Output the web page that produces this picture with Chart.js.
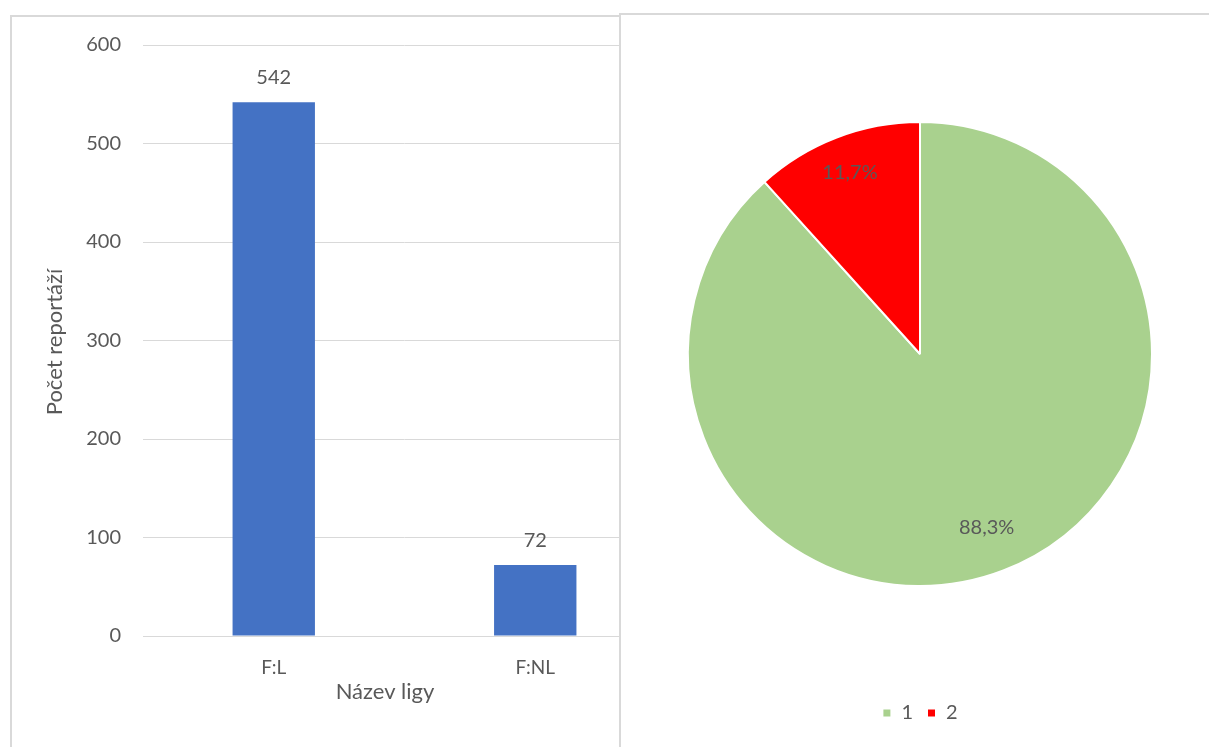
<!DOCTYPE html>
<html>
<head>
<meta charset="utf-8">
<script src="https://cdn.jsdelivr.net/npm/chart.js@4"></script>
<style>
  body { margin: 0; background: #fff; }
  #wrap { position: relative; width: 1209px; height: 747px; overflow: hidden; }
  #leftBox { position: absolute; left: 10px; top: 15px; width: 608px; height: 760px; border: 2px solid #d9d9d9; }
  #barWrap { position: absolute; left: 0; top: 0; width: 680px; height: 747px; }
  #rightBox { position: absolute; left: 619px; top: 13px; width: 620px; height: 760px; border: 2px solid #d9d9d9; background: #fff; }
  #pieWrap { position: absolute; left: 622px; top: 15px; width: 587px; height: 732px; }
</style>
</head>
<body>
<div id="wrap">
  <div id="leftBox"></div>
  <div id="barWrap"><canvas id="barChart"></canvas></div>
  <div id="rightBox"></div>
  <div id="pieWrap"><canvas id="pieChart"></canvas></div>
</div>
<script>
// 막대 차트 데이터
var ligy = ['F:L', 'F:NL'];
var pocty = [542, 72];
var yTitle = 'Počet reportáží';
var xTitle = 'Název ligy';

// 원형 차트 데이터
var pieLabels = ['1', '2'];
var piePct = [88.3, 11.7];

var textColor = '#595959';
var fontFam = 'Lato, "Open Sans", sans-serif';
Chart.defaults.font.family = fontFam;
Chart.defaults.font.size = 20;
Chart.defaults.color = textColor;

// 막대 위 값 + 축 제목
var barLabels = {
  id: 'barLabels',
  afterDatasetsDraw: function (chart) {
    var c = chart.ctx;
    c.save();
    c.fillStyle = textColor;
    c.font = '20px ' + fontFam;
    c.textAlign = 'center';
    c.textBaseline = 'middle';
    chart.getDatasetMeta(0).data.forEach(function (bar, i) {
      c.fillText(String(pocty[i]), bar.x, bar.y - 25);
    });
    c.font = '22px ' + fontFam;
    c.fillText(xTitle, 385, 692);
    c.translate(55, 342);
    c.rotate(-Math.PI / 2);
    c.fillText(yTitle, 0, 0);
    c.restore();
  }
};

new Chart(document.getElementById('barChart'), {
  type: 'bar',
  data: {
    labels: ligy,
    datasets: [{
      data: pocty,
      backgroundColor: '#4472C4',
      categoryPercentage: 1,
      barPercentage: 0.315
    }]
  },
  options: {
    responsive: true,
    maintainAspectRatio: false,
    animation: false,
    layout: { padding: { left: 0, top: 45, right: 14, bottom: 0 } },
    plugins: { legend: { display: false }, tooltip: { enabled: false } },
    scales: {
      x: {
        grid: { display: false, drawTicks: false },
        border: { display: true, color: '#d9d9d9', width: 1 },
        ticks: { padding: 20, font: { size: 19 } },
        afterFit: function (s) { s.height = 111; }
      },
      y: {
        min: 0, max: 600,
        ticks: { stepSize: 100, padding: 22 },
        grid: { color: '#d9d9d9', drawTicks: false },
        border: { display: false },
        afterFit: function (s) { s.width = 143; }
      }
    }
  },
  plugins: [barLabels]
});

// 원형 차트 퍼센트 라벨
var pieText = {
  id: 'pieText',
  afterDatasetsDraw: function (chart) {
    var c = chart.ctx;
    c.save();
    c.fillStyle = textColor;
    c.font = '20px ' + fontFam;
    c.textAlign = 'center';
    c.textBaseline = 'middle';
    var k = [0.8, 0.84];
    chart.getDatasetMeta(0).data.forEach(function (arc, i) {
      var mid = (arc.startAngle + arc.endAngle) / 2;
      var r = arc.outerRadius * k[i];
      var txt = piePct[i].toFixed(1).replace('.', ',') + '%';
      c.fillText(txt, arc.x + Math.cos(mid) * r, arc.y + Math.sin(mid) * r);
    });
    c.restore();
  }
};

new Chart(document.getElementById('pieChart'), {
  type: 'pie',
  data: {
    labels: pieLabels,
    datasets: [{
      data: piePct,
      backgroundColor: ['#A9D18E', '#FF0000'],
      borderColor: '#fff',
      borderWidth: 2
    }]
  },
  options: {
    responsive: true,
    maintainAspectRatio: false,
    animation: false,
    layout: { padding: { left: 65, right: 56, top: 4, bottom: 14 } },
    plugins: {
      tooltip: { enabled: false },
      legend: {
        position: 'bottom',
        labels: { boxWidth: 9, boxHeight: 9, padding: 14, font: { size: 20 } }
      }
    }
  },
  plugins: [pieText]
});
</script>
</body>
</html>
